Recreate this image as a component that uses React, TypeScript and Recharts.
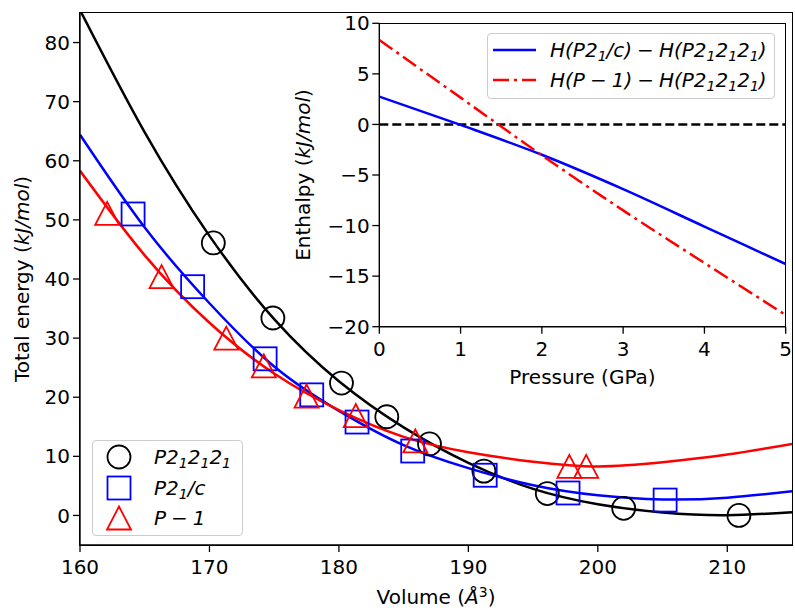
import React from 'react'
import {
  ComposedChart, LineChart, Line, Scatter, XAxis, YAxis, ReferenceLine,
} from 'recharts'

// fitted E(V) curves, read every 5 Å^3
const volumeGrid = [160, 165, 170, 175, 180, 185, 190, 195, 200, 205, 210, 215]
const fitP212121 = [85.5, 64.8, 47.3, 33.2, 22.7, 14.9, 8.9, 4.5, 1.9, 0.5, 0.05, 0.55]
const fitP21c = [64.4, 48.7, 35.9, 25.2, 17.7, 11.9, 8.0, 5.1, 3.4, 2.7, 3.0, 4.1]
const fitP1 = [58.3, 44.0, 32.6, 24.0, 17.8, 13.3, 10.7, 9.1, 8.3, 9.0, 10.3, 12.1]

// computed points
const p212121Vol = [170.3, 174.9, 180.2, 183.7, 187.0, 191.2, 196.1, 202.0, 210.9]
const p212121E = [46.1, 33.4, 22.4, 16.7, 12.1, 7.5, 3.7, 1.2, 0.0]
const p21cVol = [164.1, 168.7, 174.3, 177.9, 181.4, 185.7, 191.3, 197.7, 205.2]
const p21cE = [51.0, 38.7, 26.5, 20.4, 15.8, 10.9, 6.8, 3.8, 2.6]
const p1Vol = [162.1, 166.3, 171.3, 174.2, 177.5, 181.3, 185.9, 197.8, 199.1]
const p1E = [51.1, 40.4, 30.0, 25.3, 20.2, 16.9, 12.6, 8.3, 8.3]

const volumeTicks = [160, 170, 180, 190, 200, 210]
const energyTicks = [0, 10, 20, 30, 40, 50, 60, 70, 80]

// inset: enthalpy differences vs pressure
const pressure = [0, 1, 2, 3, 4, 5]
const dhP21c = [2.75, -0.05, -3.0, -6.4, -10.1, -13.8]
const dhP1 = [8.35, 2.65, -3.05, -8.5, -13.7, -18.85]
const enthalpyTicks = [-20, -15, -10, -5, 0, 5, 10]

const FONT = 'DejaVu Sans, sans-serif'
const BLUE = '#0000ff'
const RED = '#ff0000'
const MINUS = '\u2005\u2212\u2005'

const zip = (xs: number[], ys: number[]) => xs.map((v, i) => ({ v, e: ys[i] }))

const minus = (v: number) => String(v).replace('-', '\u2212')

const tickStyle = { fill: '#000', fontSize: 20, fontFamily: FONT }
const tickLine = { stroke: '#000', strokeWidth: 1.3 }
const axisLine = { stroke: '#000', strokeWidth: 1.4 }

const Ring = (p: any) => (
  <circle cx={p.cx} cy={p.cy} r={11.5} fill="none" stroke="#000" strokeWidth={1.8} />
)
const Box = (p: any) => (
  <rect x={p.cx - 11.5} y={p.cy - 11.5} width={23} height={23} fill="none" stroke={BLUE} strokeWidth={1.8} />
)
const Tri = (p: any) => (
  <polygon
    points={`${p.cx},${p.cy - 11.5} ${p.cx - 12},${p.cy + 11.5} ${p.cx + 12},${p.cy + 11.5}`}
    fill="none" stroke={RED} strokeWidth={1.8} strokeLinejoin="miter"
  />
)

const sub = { fontSize: '0.7em', verticalAlign: '-0.3em', lineHeight: 0 } as const

function P212121() {
  return <span>P2<span style={sub}>1</span>2<span style={sub}>1</span>2<span style={sub}>1</span></span>
}

function Frame({ l, t, r, b }: { l: number; t: number; r: number; b: number }) {
  return (
    <div style={{
      position: 'absolute', left: l - 0.7, top: t - 0.7, width: r - l + 1.4, height: b - t + 1.4,
      border: '1.4px solid #000', boxSizing: 'border-box', pointerEvents: 'none',
    }} />
  )
}

export default function App() {
  const label: React.CSSProperties = { position: 'absolute', fontFamily: FONT, fontSize: 20, whiteSpace: 'nowrap', color: '#000' }
  return (
    <div style={{ position: 'relative', width: 795, height: 611, background: '#fff', overflow: 'hidden' }}>
      <style>{'body{margin:0}'}</style>

      <div style={{ position: 'absolute', left: 0, top: 0 }}>
        <ComposedChart width={795} height={611} margin={{ top: 13, right: 3, bottom: 26, left: 25 }}>
          <XAxis
            type="number" dataKey="v" domain={[160, 215]} ticks={volumeTicks} allowDataOverflow
            height={40} tick={tickStyle} tickLine={tickLine} axisLine={axisLine} tickSize={7} tickMargin={8}
          />
          <YAxis
            type="number" dataKey="e" domain={[-5, 85]} ticks={energyTicks} allowDataOverflow
            width={55} tick={tickStyle} tickLine={tickLine} axisLine={axisLine} tickSize={7} tickMargin={3}
          />
          <Line data={zip(volumeGrid, fitP212121)} dataKey="e" type="natural" stroke="#000" strokeWidth={2.5} dot={false} activeDot={false} isAnimationActive={false} />
          <Line data={zip(volumeGrid, fitP21c)} dataKey="e" type="natural" stroke={BLUE} strokeWidth={2.5} dot={false} activeDot={false} isAnimationActive={false} />
          <Line data={zip(volumeGrid, fitP1)} dataKey="e" type="natural" stroke={RED} strokeWidth={2.5} dot={false} activeDot={false} isAnimationActive={false} />
          <Scatter data={zip(p212121Vol, p212121E)} shape={Ring} isAnimationActive={false} />
          <Scatter data={zip(p21cVol, p21cE)} shape={Box} isAnimationActive={false} />
          <Scatter data={zip(p1Vol, p1E)} shape={Tri} isAnimationActive={false} />
        </ComposedChart>
      </div>
      <Frame l={80} t={13} r={792} b={545} />

      <div style={{ ...label, left: 436, top: 597, transform: 'translate(-50%, -50%)' }}>
        Volume (<i>Å</i><sup style={{ fontSize: '0.7em', verticalAlign: '0.5em', lineHeight: 0 }}>3</sup>)
      </div>
      <div style={{ ...label, left: 22, top: 279, transform: 'translate(-50%, -50%) rotate(-90deg)' }}>
        Total energy (<i>kJ/mol</i>)
      </div>

      {/* main legend */}
      <div style={{
        position: 'absolute', left: 92, top: 440, width: 151, height: 96, boxSizing: 'border-box',
        border: '1.3px solid #cccccc', borderRadius: 4, background: 'rgba(255,255,255,0.8)',
      }} />
      {[
        { y: 457, mark: Ring, text: <P212121 /> },
        { y: 487.5, mark: Box, text: <span>P2<span style={sub}>1</span>/c</span> },
        { y: 518, mark: Tri, text: <span>P{MINUS}1</span> },
      ].map((row, i) => (
        <React.Fragment key={i}>
          <svg width={30} height={30} style={{ position: 'absolute', left: 104, top: row.y - 15 }}>
            {row.mark({ cx: 15, cy: 15 })}
          </svg>
          <div style={{ ...label, left: 154, top: row.y, transform: 'translateY(-50%)', fontStyle: 'italic' }}>
            {row.text}
          </div>
        </React.Fragment>
      ))}

      {/* inset */}
      <div style={{ position: 'absolute', left: 379.3, top: 23.3, width: 406.4, height: 303.4, background: '#fff' }} />
      <div style={{ position: 'absolute', left: 290, top: 0 }}>
        <LineChart width={505} height={400} margin={{ top: 23.3, right: 9.3, bottom: 43.3, left: 29.3 }}>
          <XAxis
            type="number" dataKey="v" domain={[0, 5]} ticks={pressure} allowDataOverflow
            height={30} tick={tickStyle} tickLine={tickLine} axisLine={axisLine} tickSize={7} tickMargin={8}
          />
          <YAxis
            type="number" dataKey="e" domain={[-20, 10]} ticks={enthalpyTicks} allowDataOverflow tickFormatter={minus}
            width={60} tick={tickStyle} tickLine={tickLine} axisLine={axisLine} tickSize={7} tickMargin={2.5}
          />
          <ReferenceLine y={0} stroke="#000" strokeWidth={2.5} strokeDasharray="9 4" />
          <Line data={zip(pressure, dhP21c)} dataKey="e" type="monotone" stroke={BLUE} strokeWidth={2.5} dot={false} activeDot={false} isAnimationActive={false} />
          <Line data={zip(pressure, dhP1)} dataKey="e" type="monotone" stroke={RED} strokeWidth={2.5} strokeDasharray="16 5 3 5" dot={false} activeDot={false} isAnimationActive={false} />
        </LineChart>
      </div>
      <Frame l={379.3} t={23.3} r={785.7} b={326.7} />

      <div style={{ ...label, left: 582.5, top: 377, transform: 'translate(-50%, -50%)' }}>Pressure (GPa)</div>
      <div style={{ ...label, left: 303, top: 175, transform: 'translate(-50%, -50%) rotate(-90deg)' }}>
        Enthalpy (<i>kJ/mol</i>)
      </div>

      {/* inset legend */}
      <div style={{
        position: 'absolute', left: 487, top: 33, width: 288, height: 66, boxSizing: 'border-box',
        border: '1.3px solid #cccccc', borderRadius: 4, background: 'rgba(255,255,255,0.8)',
      }} />
      <svg width={50} height={60} style={{ position: 'absolute', left: 490, top: 35 }}>
        <line x1={3} x2={46} y1={15} y2={15} stroke={BLUE} strokeWidth={2.5} />
        <line x1={3} x2={46} y1={45} y2={45} stroke={RED} strokeWidth={2.5} strokeDasharray="16 5 3 5" />
      </svg>
      <div style={{ ...label, left: 550, top: 50, transform: 'translateY(-50%)', fontStyle: 'italic' }}>
        H(P2<span style={sub}>1</span>/c){MINUS}H(<P212121 />)
      </div>
      <div style={{ ...label, left: 550, top: 80, transform: 'translateY(-50%)', fontStyle: 'italic' }}>
        H(P{MINUS}1){MINUS}H(<P212121 />)
      </div>
    </div>
  )
}
